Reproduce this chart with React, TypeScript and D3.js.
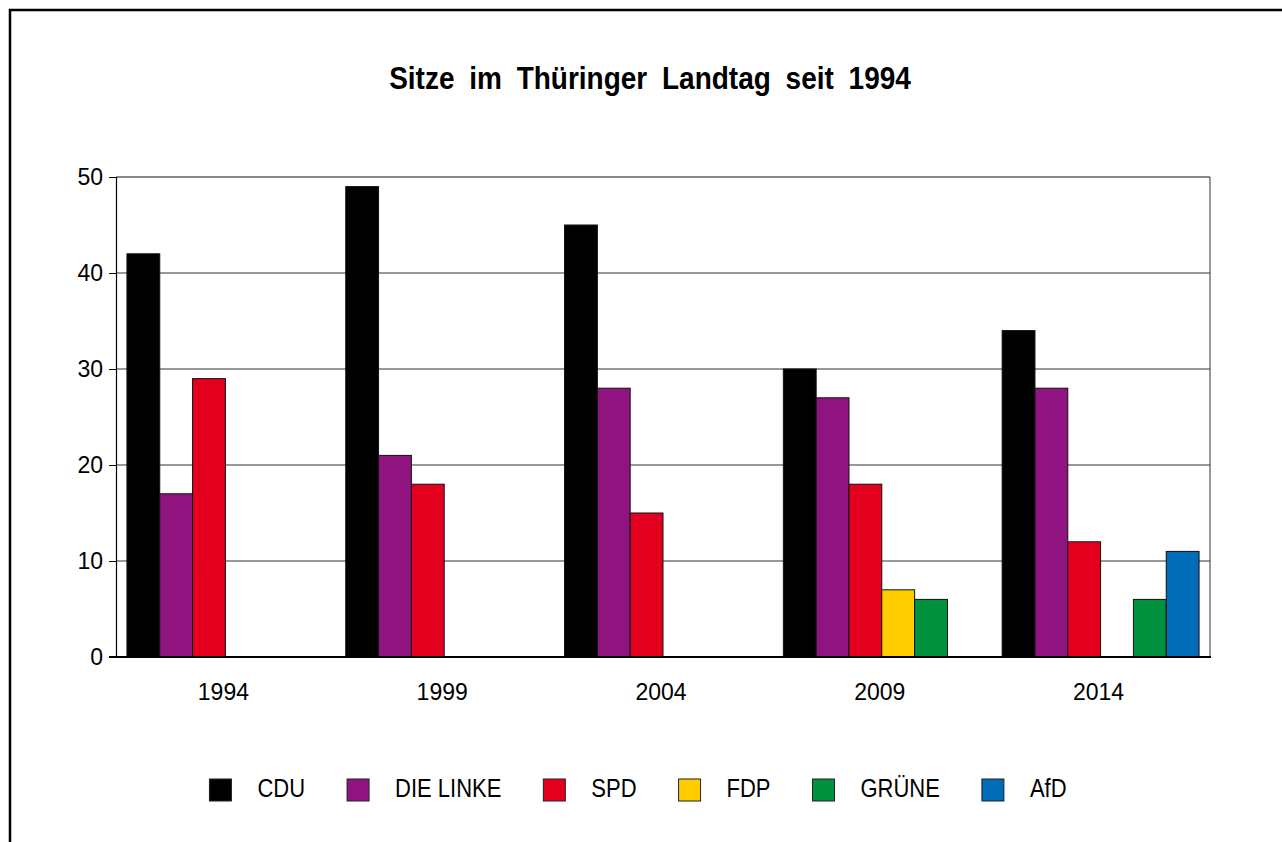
import React, { useEffect, useRef } from "react";
import * as d3 from "d3";

const years = ["1994", "1999", "2004", "2009", "2014"];
const parties = ["CDU", "DIE LINKE", "SPD", "FDP", "GRÜNE", "AfD"];
const partyColors = ["#000000", "#8f1480", "#e3001e", "#ffcc00", "#00923f", "#006bb6"];
const cduSeats = [42, 49, 45, 30, 34];
const linkeSeats = [17, 21, 28, 27, 28];
const spdSeats = [29, 18, 15, 18, 12];
const fdpSeats = [0, 0, 0, 7, 0];
const grueneSeats = [0, 0, 0, 6, 6];
const afdSeats = [0, 0, 0, 0, 11];
const yTicks = [0, 10, 20, 30, 40, 50];
const titleText = "Sitze im Thüringer Landtag seit 1994";

const seriesValues = [cduSeats, linkeSeats, spdSeats, fdpSeats, grueneSeats, afdSeats];

export default function App() {
  const ref = useRef<SVGSVGElement>(null);

  useEffect(() => {
    const svg = d3.select(ref.current);
    svg.selectAll("*").remove();
    const W = 1282, H = 842;
    const left = 116, right = 1210, top = 177, bottom = 657;
    const font = "'Liberation Sans', Arial, sans-serif";

    svg.append("rect").attr("x", 0).attr("y", 0).attr("width", W).attr("height", H).attr("fill", "#fff");
    // frame
    svg.append("rect").attr("x", 10).attr("y", 10).attr("width", 1400).attr("height", 1000)
      .attr("fill", "none").attr("stroke", "#000").attr("stroke-width", 2.5);

    // title
    svg.append("text")
      .attr("transform", "translate(650,89) scale(1,1.13)")
      .attr("text-anchor", "middle")
      .attr("font-family", font).attr("font-weight", "bold").attr("font-size", 28)
      .attr("word-spacing", 7)
      .text(titleText);

    const x0 = d3.scaleBand<string>().domain(years).range([left, right]).paddingInner(0).paddingOuter(0);
    const x1 = d3.scaleBand<string>().domain(parties).range([x0.bandwidth() * 0.05, x0.bandwidth() * 0.95]);
    const y = d3.scaleLinear().domain([0, 50]).range([bottom, top]);

    const g = svg.append("g");
    // gridlines
    yTicks.filter(t => t > 0).forEach(t => {
      g.append("line").attr("x1", left).attr("x2", right).attr("y1", y(t)).attr("y2", y(t))
        .attr("stroke", t === 50 ? "#111" : "#333").attr("stroke-width", 1);
    });
    g.append("line").attr("x1", right).attr("x2", right).attr("y1", top).attr("y2", bottom)
      .attr("stroke", "#333").attr("stroke-width", 1);

    // bars
    years.forEach((yr, i) => {
      parties.forEach((p, j) => {
        const v = seriesValues[j][i];
        if (!v) return;
        g.append("rect")
          .attr("x", (x0(yr) as number) + (x1(p) as number))
          .attr("y", y(v))
          .attr("width", x1.bandwidth())
          .attr("height", y(0) - y(v))
          .attr("fill", partyColors[j])
          .attr("stroke", "#111").attr("stroke-width", 1);
      });
    });

    // y axis
    const yAxis = d3.axisLeft(y).tickValues(yTicks).tickSize(7).tickPadding(6);
    const ya = svg.append("g").attr("transform", `translate(${left},0)`).call(yAxis);
    ya.select(".domain").attr("stroke", "#000").attr("stroke-width", 1.2);
    ya.selectAll(".tick line").attr("stroke", "#000");
    ya.selectAll("text").attr("font-family", font).attr("font-size", 23).attr("fill", "#000");

    // x axis
    svg.append("line").attr("x1", left - 7).attr("x2", right + 1).attr("y1", bottom).attr("y2", bottom)
      .attr("stroke", "#000").attr("stroke-width", 2);
    years.forEach(yr => {
      svg.append("text")
        .attr("x", (x0(yr) as number) + x0.bandwidth() / 2 - 2)
        .attr("y", 700)
        .attr("text-anchor", "middle")
        .attr("font-family", font).attr("font-size", 23)
        .text(yr);
    });

    // legend
    const lg = svg.append("g");
    const items: { w: number; node: any }[] = [];
    parties.forEach((p, j) => {
      const it = lg.append("g");
      it.append("rect").attr("x", 0).attr("y", 779).attr("width", 22).attr("height", 22)
        .attr("fill", partyColors[j]).attr("stroke", "#222").attr("stroke-width", 1);
      const t = it.append("text").attr("transform", "translate(48,797) scale(1,1.15)")
        .attr("font-family", font).attr("font-size", 22).text(p);
      const tw = (t.node() as SVGTextElement).getComputedTextLength();
      items.push({ w: 48 + tw, node: it });
    });
    const gap = 42;
    const total = items.reduce((s, d) => s + d.w, 0) + gap * (items.length - 1);
    let cx = 638 - total / 2;
    items.forEach(d => {
      d.node.attr("transform", `translate(${cx},0)`);
      cx += d.w + gap;
    });
  }, []);

  return (
    <svg ref={ref} width={1282} height={842}
      style={{ position: "absolute", left: 0, top: 0, display: "block" }} />
  );
}
